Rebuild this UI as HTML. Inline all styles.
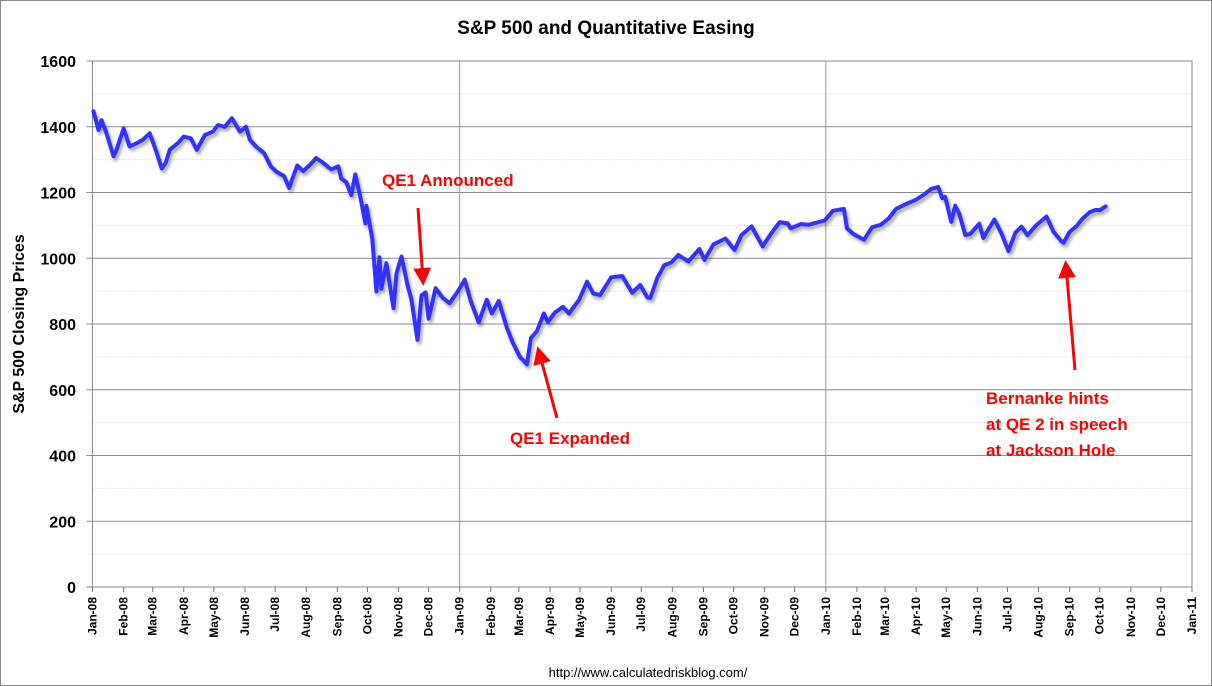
<!DOCTYPE html>
<html><head><meta charset="utf-8"><style>
html,body{margin:0;padding:0;background:#fff;}
svg{display:block;font-family:"Liberation Sans",sans-serif;}
</style></head><body>
<svg id="chart" width="1212" height="686" viewBox="0 0 1212 686">
<defs>
<filter id="sh" x="-5%" y="-5%" width="110%" height="110%">
<feGaussianBlur in="SourceAlpha" stdDeviation="1.6"/>
<feOffset dx="2" dy="3" result="b"/>
<feComponentTransfer><feFuncA type="linear" slope="0.35"/></feComponentTransfer>
<feMerge><feMergeNode/><feMergeNode in="SourceGraphic"/></feMerge>
</filter>
<marker id="ah" markerWidth="6" markerHeight="6" refX="4" refY="3" orient="auto" markerUnits="strokeWidth">
<path d="M0,0 L6,3 L0,6 Z" fill="#ff0000"/>
</marker>
</defs>
<rect x="0.5" y="0.5" width="1211" height="685" fill="#fff" stroke="#888"/>
<text x="606" y="34" text-anchor="middle" font-size="19" font-weight="bold">S&amp;P 500 and Quantitative Easing</text>
<g id="grid"></g>
<g id="axes"></g>
<g id="series" filter="url(#sh)"></g>
<text transform="translate(24,324) rotate(-90)" text-anchor="middle" font-size="16" font-weight="bold">S&amp;P 500 Closing Prices</text>
<g fill="#ff0000" font-weight="bold" font-size="17">
<text x="382" y="186">QE1 Announced</text>
<line x1="418" y1="208" x2="423" y2="280" stroke="#ff0000" stroke-width="3" marker-end="url(#ah)"/>
<text x="510" y="444">QE1 Expanded</text>
<line x1="557" y1="418" x2="539" y2="352" stroke="#ff0000" stroke-width="3" marker-end="url(#ah)"/>
<text x="986" y="404">Bernanke hints</text>
<text x="986" y="430">at QE 2 in speech</text>
<text x="986" y="456">at Jackson Hole</text>
<line x1="1075" y1="370" x2="1066" y2="266" stroke="#ff0000" stroke-width="3" marker-end="url(#ah)"/>
</g>
<text x="648" y="677" text-anchor="middle" font-size="13">http://www.calculatedriskblog.com/</text>
</svg>
<script>
const dates = ["2008-01-02","2008-01-07","2008-01-10","2008-01-15","2008-01-22","2008-01-25","2008-02-01","2008-02-07","2008-02-14","2008-02-20","2008-02-27","2008-03-04","2008-03-10","2008-03-14","2008-03-18","2008-03-26","2008-04-01","2008-04-08","2008-04-14","2008-04-22","2008-04-30","2008-05-05","2008-05-12","2008-05-19","2008-05-27","2008-06-02","2008-06-06","2008-06-12","2008-06-20","2008-06-27","2008-07-03","2008-07-10","2008-07-15","2008-07-23","2008-07-29","2008-08-05","2008-08-11","2008-08-18","2008-08-26","2008-09-02","2008-09-05","2008-09-10","2008-09-15","2008-09-19","2008-09-24","2008-09-29","2008-09-30","2008-10-06","2008-10-10","2008-10-13","2008-10-15","2008-10-20","2008-10-27","2008-10-30","2008-11-04","2008-11-10","2008-11-14","2008-11-20","2008-11-24","2008-11-28","2008-12-01","2008-12-08","2008-12-15","2008-12-22","2008-12-31","2009-01-06","2009-01-12","2009-01-20","2009-01-28","2009-02-02","2009-02-09","2009-02-17","2009-02-23","2009-03-02","2009-03-09","2009-03-13","2009-03-19","2009-03-26","2009-03-30","2009-04-06","2009-04-14","2009-04-20","2009-04-30","2009-05-08","2009-05-14","2009-05-21","2009-06-01","2009-06-12","2009-06-22","2009-06-30","2009-07-07","2009-07-10","2009-07-17","2009-07-24","2009-07-31","2009-08-07","2009-08-17","2009-08-28","2009-09-02","2009-09-11","2009-09-23","2009-10-02","2009-10-09","2009-10-19","2009-10-30","2009-11-06","2009-11-16","2009-11-24","2009-11-27","2009-12-07","2009-12-15","2009-12-31","2010-01-08","2010-01-19","2010-01-22","2010-01-29","2010-02-08","2010-02-16","2010-02-25","2010-03-05","2010-03-12","2010-03-22","2010-04-01","2010-04-09","2010-04-16","2010-04-23","2010-04-27","2010-04-30","2010-05-06","2010-05-10","2010-05-14","2010-05-20","2010-05-25","2010-06-03","2010-06-07","2010-06-18","2010-06-25","2010-07-02","2010-07-09","2010-07-15","2010-07-21","2010-07-30","2010-08-09","2010-08-16","2010-08-24","2010-08-26","2010-09-01","2010-09-08","2010-09-14","2010-09-21","2010-09-27","2010-10-01","2010-10-07"];
const closes = [1447,1390,1420,1380,1310,1330,1395,1340,1350,1360,1380,1330,1273,1290,1330,1350,1370,1365,1330,1375,1385,1405,1400,1426,1385,1400,1360,1340,1320,1278,1262,1250,1214,1282,1265,1285,1305,1290,1270,1280,1242,1232,1192,1255,1185,1106,1160,1056,899,1003,907,985,848,954,1005,919,873,752,887,896,816,909,880,863,903,935,870,805,874,832,870,789,743,700,677,757,778,832,806,835,852,832,873,929,893,888,942,946,895,919,881,879,940,979,987,1010,990,1028,995,1042,1060,1025,1071,1097,1036,1069,1110,1106,1091,1104,1102,1115,1144,1150,1091,1073,1056,1094,1102,1122,1150,1165,1178,1194,1211,1217,1183,1187,1111,1160,1135,1071,1074,1105,1062,1118,1076,1022,1078,1096,1070,1101,1127,1080,1051,1047,1080,1098,1121,1140,1147,1146,1158];
const yTicks = [0,200,400,600,800,1000,1200,1400,1600];
const monthNames = ["Jan","Feb","Mar","Apr","May","Jun","Jul","Aug","Sep","Oct","Nov","Dec"];

const X0=92.5, X1=1192, Y0=587, Y1=61;
const t0=Date.UTC(2008,0,1), t1=Date.UTC(2011,0,1);
function xs(d){const p=d.split('-');const t=Date.UTC(+p[0],+p[1]-1,+p[2]);return X0+(t-t0)/(t1-t0)*(X1-X0);}
function xt(t){return X0+(t-t0)/(t1-t0)*(X1-X0);}
function ys(v){return Y0-(v/1600)*(Y0-Y1);}
const NS='http://www.w3.org/2000/svg';
function mk(tag,attrs,parent){const e=document.createElementNS(NS,tag);for(const k in attrs)e.setAttribute(k,attrs[k]);parent.appendChild(e);return e;}
const grid=document.getElementById('grid'), axes=document.getElementById('axes'), series=document.getElementById('series');

// minor gridlines
for(let v=100;v<1600;v+=200){
  const l=mk('line',{x1:X0,x2:X1,y1:ys(v),y2:ys(v),stroke:'#cfcfcf','stroke-width':1,'stroke-dasharray':'1,2'},grid);
  
  
}
// major gridlines + labels
yTicks.forEach(v=>{
  const l=mk('line',{x1:X0-6,x2:X1,y1:ys(v),y2:ys(v),stroke:v===0?'#777':'#8c8c8c','stroke-width':1},grid);
  
  
  const t=mk('text',{x:76,y:ys(v)+6,'text-anchor':'end','font-size':16,'font-weight':'bold'},axes);
  t.textContent=v;
  
  
});
// vertical gridlines at years
[2009,2010].forEach(y=>{
  const x=xt(Date.UTC(y,0,1));
  const l=mk('line',{x1:x,x2:x,y1:Y1,y2:Y0,stroke:'#999','stroke-width':1},grid);
  
  
});
// plot frame
const fr=mk('rect',{x:X0,y:Y1,width:X1-X0,height:Y0-Y1,fill:'none',stroke:'#888','stroke-width':1},axes);


// x ticks
for(let i=0;i<=36;i++){
  const y=2008+Math.floor(i/12), m=i%12;
  const x=xt(Date.UTC(y,m,1));
  const tk=mk('line',{x1:x,x2:x,y1:Y0,y2:Y0+5,stroke:'#777'},axes);
  
  
  const t=mk('text',{transform:`translate(${x+4},597) rotate(-90)`,'text-anchor':'end','font-size':12,'font-weight':'bold'},axes);
  t.textContent=monthNames[m]+'-'+String(y).slice(2);
  
  
}
// series
let d='';
dates.forEach((dt,i)=>{d+=(i?'L':'M')+xs(dt).toFixed(1)+','+ys(closes[i]).toFixed(1);});
const p=mk('path',{d:d,fill:'none',stroke:'#3333ff','stroke-width':4,'stroke-linejoin':'round','stroke-linecap':'round'},series);


</script>
</body></html>
